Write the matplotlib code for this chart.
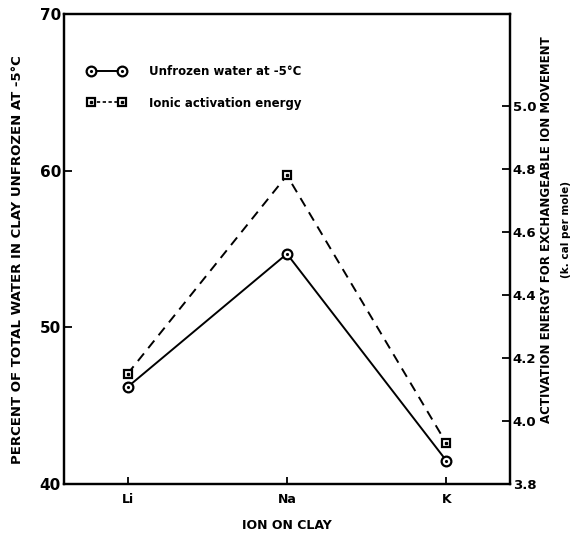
import matplotlib
matplotlib.use("Agg")
import matplotlib.pyplot as plt
from matplotlib.lines import Line2D
from matplotlib.legend_handler import HandlerTuple

ions = ["Li", "Na", "K"]
unfrozen = [46.2, 54.7, 41.5]        # percent, left axis
activation = [4.15, 4.78, 3.93]      # k. cal per mole, right axis

plt.rcParams['font.family'] = 'DejaVu Sans'
plt.rcParams['font.weight'] = 'bold'

fig = plt.figure(figsize=(5.85, 5.41), dpi=100)
ax = fig.add_axes([0.109, 0.105, 0.763, 0.869])
ax2 = ax.twinx()

x = list(range(len(ions)))

ax.plot(x, unfrozen, color='black', lw=1.4, marker='o', ms=7,
        mfc='white', mec='black', mew=1.6, zorder=3)
ax.plot(x, unfrozen, ls='none', marker='.', ms=2.5, color='black', zorder=4)

ax2.plot(x, activation, color='black', lw=1.4, ls=(0, (5, 3.5)),
         marker='s', ms=6, mfc='white', mec='black', mew=1.6, zorder=3)
ax2.plot(x, activation, ls='none', marker='s', ms=1.5, color='black', zorder=4)

ax.set_xlim(-0.4, 2.4)
ax.set_ylim(40, 70)
ax.set_yticks([40, 50, 60, 70])
ax.set_xticks(x)
ax.set_xticklabels(ions)
ax2.set_ylim(3.8, 5.292)
ax2.set_yticks([3.8, 4.0, 4.2, 4.4, 4.6, 4.8, 5.0])
ax2.set_yticklabels(["3.8", "4.0", "4.2", "4.4", "4.6", "4.8", "5.0"])

for a in (ax, ax2):
    for s in a.spines.values():
        s.set_linewidth(1.6)
ax.tick_params(axis='y', direction='in', length=6, width=1.3, pad=2, labelsize=11)
ax.tick_params(axis='x', direction='in', length=5, width=1.3, pad=6, labelsize=9)
ax2.tick_params(axis='y', direction='in', length=6, width=1.3, pad=2, labelsize=9.5)

ax.set_xlabel("ION ON CLAY", fontsize=9, fontweight='bold', labelpad=10)
fig.text(0.03, 0.52, "PERCENT OF TOTAL WATER IN CLAY UNFROZEN AT -5°C",
         rotation=90, ha='center', va='center', fontsize=9.5, fontweight='bold')
fig.text(0.935, 0.575, "ACTIVATION ENERGY FOR EXCHANGEABLE ION MOVEMENT",
         rotation=90, ha='center', va='center', fontsize=8.5, fontweight='bold')
fig.text(0.968, 0.575, "(k. cal per mole)",
         rotation=90, ha='center', va='center', fontsize=7.5, fontweight='bold')

h1 = (Line2D([], [], color='black', lw=1.4, marker='o', ms=7, mfc='white', mec='black', mew=1.6),
      Line2D([], [], ls='none', marker='.', ms=2.5, color='black'))
h2 = (Line2D([], [], color='black', lw=1.2, ls=(0, (2, 1.5)), marker='s', ms=6,
             mfc='white', mec='black', mew=1.6),
      Line2D([], [], ls='none', marker='s', ms=1.5, color='black'))
ax.legend([h1, h2], ["Unfrozen water at -5°C", "Ionic activation energy"],
          handler_map={tuple: HandlerTuple(ndivide=1)}, numpoints=2,
          loc='upper left', bbox_to_anchor=(0.03, 0.915), frameon=False,
          handlelength=3.2, handletextpad=2.0, labelspacing=1.6,
          prop={'size': 8.5, 'weight': 'bold'})

fig.savefig("out.png", dpi=100)
